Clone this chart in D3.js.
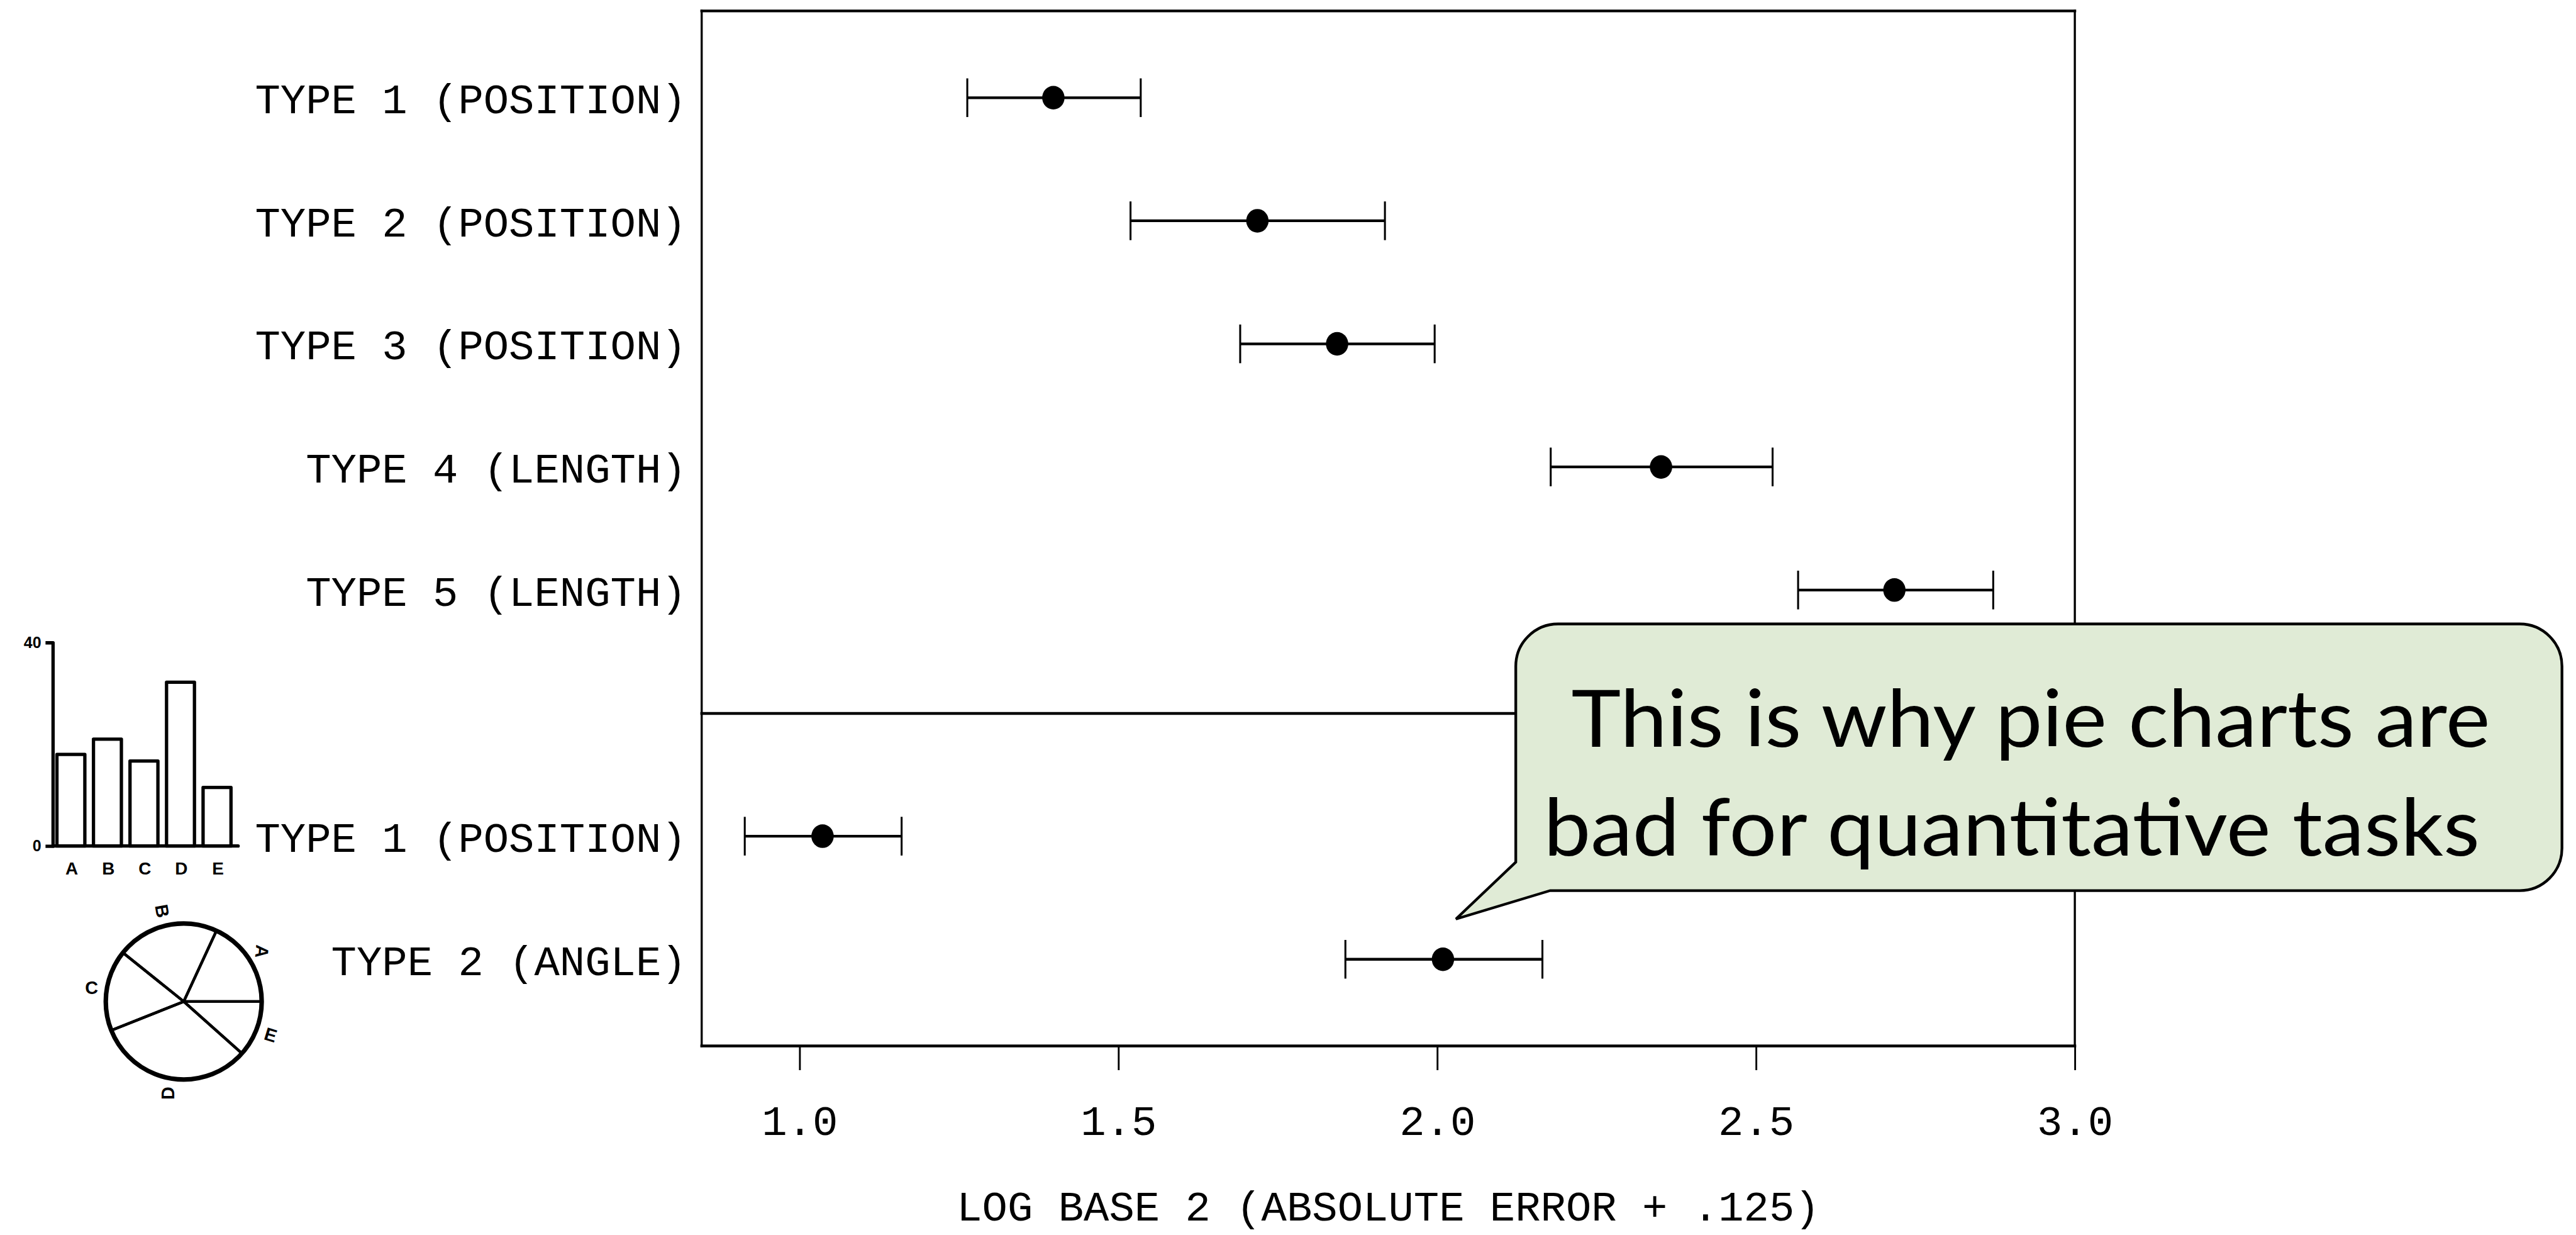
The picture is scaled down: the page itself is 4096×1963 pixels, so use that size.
<!DOCTYPE html>
<html>
<head>
<meta charset="utf-8">
<script src="https://cdn.jsdelivr.net/npm/d3@7"></script>
<style>
  html, body { margin: 0; padding: 0; background: #ffffff; }
  svg { display: block; }
</style>
</head>
<body>
<script>
// ---- Data ----------------------------------------------------------------
// Judgement-error results: midmean and 95% interval per judgement type
const rowLabels = [
  "TYPE 1 (POSITION)", "TYPE 2 (POSITION)", "TYPE 3 (POSITION)",
  "TYPE 4 (LENGTH)", "TYPE 5 (LENGTH)",
  "TYPE 1 (POSITION)", "TYPE 2 (ANGLE)"
];
const rowMeans = [1.398, 1.718, 1.843, 2.351, 2.717, 1.036, 2.009];
const rowLows  = [1.263, 1.519, 1.691, 2.178, 2.566, 0.914, 1.856];
const rowHighs = [1.535, 1.918, 1.996, 2.526, 2.872, 1.160, 2.165];
// experiment 1 rows sit in slots 0-4, experiment 2 rows below the divider
const rowSlots = [0, 1, 2, 3, 4, 6, 7];

const xTicks = [1.0, 1.5, 2.0, 2.5, 3.0];
const xTitle = "LOG BASE 2 (ABSOLUTE ERROR + .125)";

// Stimulus data shown both as bars and as a pie
const stimCats = ["A", "B", "C", "D", "E"];
const stimValues = [18, 21, 16.7, 32.2, 11.5];
const barTicks = [0, 40];

const calloutLines = ["This is why pie charts are", "bad for quantitative tasks"];

// ---- Layout --------------------------------------------------------------
const W = 4096, H = 1963;
const S = 0.961;           // drawing is laid out on a 4262 x 2043 grid
const monoFont = "'Liberation Mono', 'DejaVu Sans Mono', monospace";
const boldFont = "'Liberation Sans', Arial, sans-serif";

const svg = d3.select("body").append("svg")
  .attr("width", W).attr("height", H)
  .attr("viewBox", `0 0 ${W} ${H}`);
svg.append("rect").attr("width", W).attr("height", H).attr("fill", "#ffffff");
const g = svg.append("g").attr("transform", `scale(${S})`);

const plot = { left: 1161, right: 3433, top: 18, bottom: 1730, divider: 1180 };

const x = d3.scaleLinear().domain([1, 3]).range([1323, 3433]);
const y = d3.scaleLinear().domain([0, 7]).range([161.6, 1586.6]);

// ---- Frame ---------------------------------------------------------------
const frame = g.append("g").attr("stroke", "#000").attr("stroke-linecap", "square");
frame.append("line").attr("x1", plot.left).attr("x2", plot.right)
  .attr("y1", plot.top).attr("y2", plot.top).attr("stroke-width", 4.5);
frame.append("line").attr("x1", plot.left).attr("x2", plot.right)
  .attr("y1", plot.bottom).attr("y2", plot.bottom).attr("stroke-width", 4.5);
frame.append("line").attr("x1", plot.left).attr("x2", plot.right)
  .attr("y1", plot.divider).attr("y2", plot.divider).attr("stroke-width", 4.5);
frame.append("line").attr("x1", plot.left).attr("x2", plot.left)
  .attr("y1", plot.top).attr("y2", plot.bottom).attr("stroke-width", 3.5);
frame.append("line").attr("x1", plot.right).attr("x2", plot.right)
  .attr("y1", plot.top).attr("y2", plot.bottom).attr("stroke-width", 3.5);

// ---- X axis --------------------------------------------------------------
const xAxis = g.append("g")
  .attr("transform", `translate(0,${plot.bottom})`)
  .call(d3.axisBottom(x).tickValues(xTicks).tickFormat(d3.format(".1f"))
    .tickSize(40).tickPadding(58));
xAxis.select(".domain").remove();
xAxis.attr("font-family", monoFont).attr("font-size", 70);
xAxis.selectAll(".tick line").attr("stroke", "#000").attr("stroke-width", 3);
xAxis.selectAll(".tick text").attr("fill", "#000");

g.append("text")
  .attr("x", (plot.left + plot.right) / 2)
  .attr("y", 2019)
  .attr("text-anchor", "middle")
  .attr("font-family", monoFont).attr("font-size", 70)
  .attr("fill", "#000")
  .text(xTitle);

// ---- Rows ----------------------------------------------------------------
const rows = rowLabels.map((label, i) => ({
  label, mean: rowMeans[i], lo: rowLows[i], hi: rowHighs[i], slot: rowSlots[i]
}));

g.append("g").selectAll("text").data(rows).join("text")
  .attr("x", 1136)
  .attr("y", d => y(d.slot))
  .attr("dy", "0.37em")
  .attr("text-anchor", "end")
  .attr("font-family", monoFont).attr("font-size", 70)
  .attr("fill", "#000")
  .text(d => d.label);

const bars = g.append("g").selectAll("g").data(rows).join("g")
  .attr("transform", d => `translate(0,${y(d.slot)})`);
const capH = 32;
bars.append("line")
  .attr("x1", d => x(d.lo)).attr("x2", d => x(d.hi))
  .attr("stroke", "#000").attr("stroke-width", 4.5);
bars.append("line")
  .attr("x1", d => x(d.lo)).attr("x2", d => x(d.lo))
  .attr("y1", -capH).attr("y2", capH)
  .attr("stroke", "#000").attr("stroke-width", 3.2);
bars.append("line")
  .attr("x1", d => x(d.hi)).attr("x2", d => x(d.hi))
  .attr("y1", -capH).attr("y2", capH)
  .attr("stroke", "#000").attr("stroke-width", 3.2);
bars.append("ellipse")
  .attr("cx", d => x(d.mean))
  .attr("rx", 18.5).attr("ry", 19.5)
  .attr("fill", "#000");

// ---- Inset bar chart -----------------------------------------------------
const bx = d3.scaleBand().domain(stimCats).range([94.2, 382.2]).padding(0.236).paddingOuter(0);
const by = d3.scaleLinear().domain([0, 40]).range([1399.3, 1062.7]);

const barAxis = g.append("g")
  .attr("transform", "translate(87.3,0)")
  .call(d3.axisLeft(by).tickValues(barTicks).tickSize(12).tickPadding(7));
barAxis.attr("font-family", boldFont).attr("font-size", 26).attr("font-weight", "bold");
barAxis.select(".domain").attr("stroke", "#000").attr("stroke-width", 5.5)
  .attr("stroke-linejoin", "round");
barAxis.selectAll(".tick line").remove();
barAxis.selectAll(".tick text").attr("fill", "#000");

g.append("line")
  .attr("x1", 87.3).attr("x2", 394)
  .attr("y1", by(0)).attr("y2", by(0))
  .attr("stroke", "#000").attr("stroke-width", 5.5).attr("stroke-linecap", "round");

g.append("g").selectAll("rect").data(stimCats).join("rect")
  .attr("x", d => bx(d))
  .attr("width", bx.bandwidth())
  .attr("y", (d, i) => by(stimValues[i]))
  .attr("height", (d, i) => by(0) - by(stimValues[i]))
  .attr("fill", "none").attr("stroke", "#000").attr("stroke-width", 5.5)
  .attr("stroke-linejoin", "round");

g.append("g").selectAll("text").data(stimCats).join("text")
  .attr("x", d => bx(d) + bx.bandwidth() / 2 + 1.5)
  .attr("y", 1446)
  .attr("text-anchor", "middle")
  .attr("font-family", boldFont).attr("font-size", 29).attr("font-weight", "bold")
  .attr("fill", "#000")
  .text(d => d);

// ---- Inset pie chart -----------------------------------------------------
const pieCenter = [304, 1656.5];
const pieR = 129;
const pie = d3.pie().sort(null)
  .startAngle(Math.PI / 2).endAngle(Math.PI / 2 - 2 * Math.PI);
const slices = pie(stimValues);
const wedge = d3.arc().innerRadius(0).outerRadius(pieR);
const labelArc = d3.arc().innerRadius(154).outerRadius(154);
const labelRotation = { A: 95, B: 80, C: 0, D: -90, E: 17 };

const pg = g.append("g").attr("transform", `translate(${pieCenter[0]},${pieCenter[1]})`);
pg.selectAll("path").data(slices).join("path")
  .attr("d", wedge)
  .attr("fill", "none").attr("stroke", "#000").attr("stroke-width", 4.5)
  .attr("stroke-linejoin", "round");
pg.append("circle").attr("r", pieR)
  .attr("fill", "none").attr("stroke", "#000").attr("stroke-width", 7.5);
pg.selectAll("text").data(slices).join("text")
  .attr("transform", (d, i) => {
    const [cx, cy] = labelArc.centroid(d);
    return `translate(${cx},${cy}) rotate(${labelRotation[stimCats[i]]})`;
  })
  .attr("dy", "0.36em")
  .attr("text-anchor", "middle")
  .attr("font-family", boldFont).attr("font-size", 30).attr("font-weight", "bold")
  .attr("fill", "#000")
  .text((d, i) => stimCats[i]);

// ---- Callout -------------------------------------------------------------
const box = { l: 2508, r: 4239, t: 1032, b: 1473, rad: 70 };
const tail = { join: 1426, foot: 2565, tipX: 2409, tipY: 1520 };
const calloutPath = d3.path();
calloutPath.moveTo(box.l + box.rad, box.t);
calloutPath.lineTo(box.r - box.rad, box.t);
calloutPath.arcTo(box.r, box.t, box.r, box.t + box.rad, box.rad);
calloutPath.lineTo(box.r, box.b - box.rad);
calloutPath.arcTo(box.r, box.b, box.r - box.rad, box.b, box.rad);
calloutPath.lineTo(tail.foot, box.b);
calloutPath.lineTo(tail.tipX, tail.tipY);
calloutPath.lineTo(box.l, tail.join);
calloutPath.lineTo(box.l, box.t + box.rad);
calloutPath.arcTo(box.l, box.t, box.l + box.rad, box.t, box.rad);
calloutPath.closePath();

g.append("path")
  .attr("d", calloutPath.toString())
  .attr("fill", "#e0ebd6")
  .attr("stroke", "#000").attr("stroke-width", 4.5)
  .attr("stroke-linejoin", "miter");

const calloutText = [
  { x: 2600, y: 1235, len: 1520 },
  { x: 2554, y: 1415.6, len: 1549 }
];
g.append("g").selectAll("text").data(calloutLines).join("text")
  .attr("x", (d, i) => calloutText[i].x)
  .attr("y", (d, i) => calloutText[i].y)
  .attr("textLength", (d, i) => calloutText[i].len)
  .attr("lengthAdjust", "spacingAndGlyphs")
  .attr("font-family", "Lato, 'Open Sans', sans-serif")
  .attr("font-size", 132)
  .attr("fill", "#000")
  .text(d => d);
</script>
</body>
</html>
